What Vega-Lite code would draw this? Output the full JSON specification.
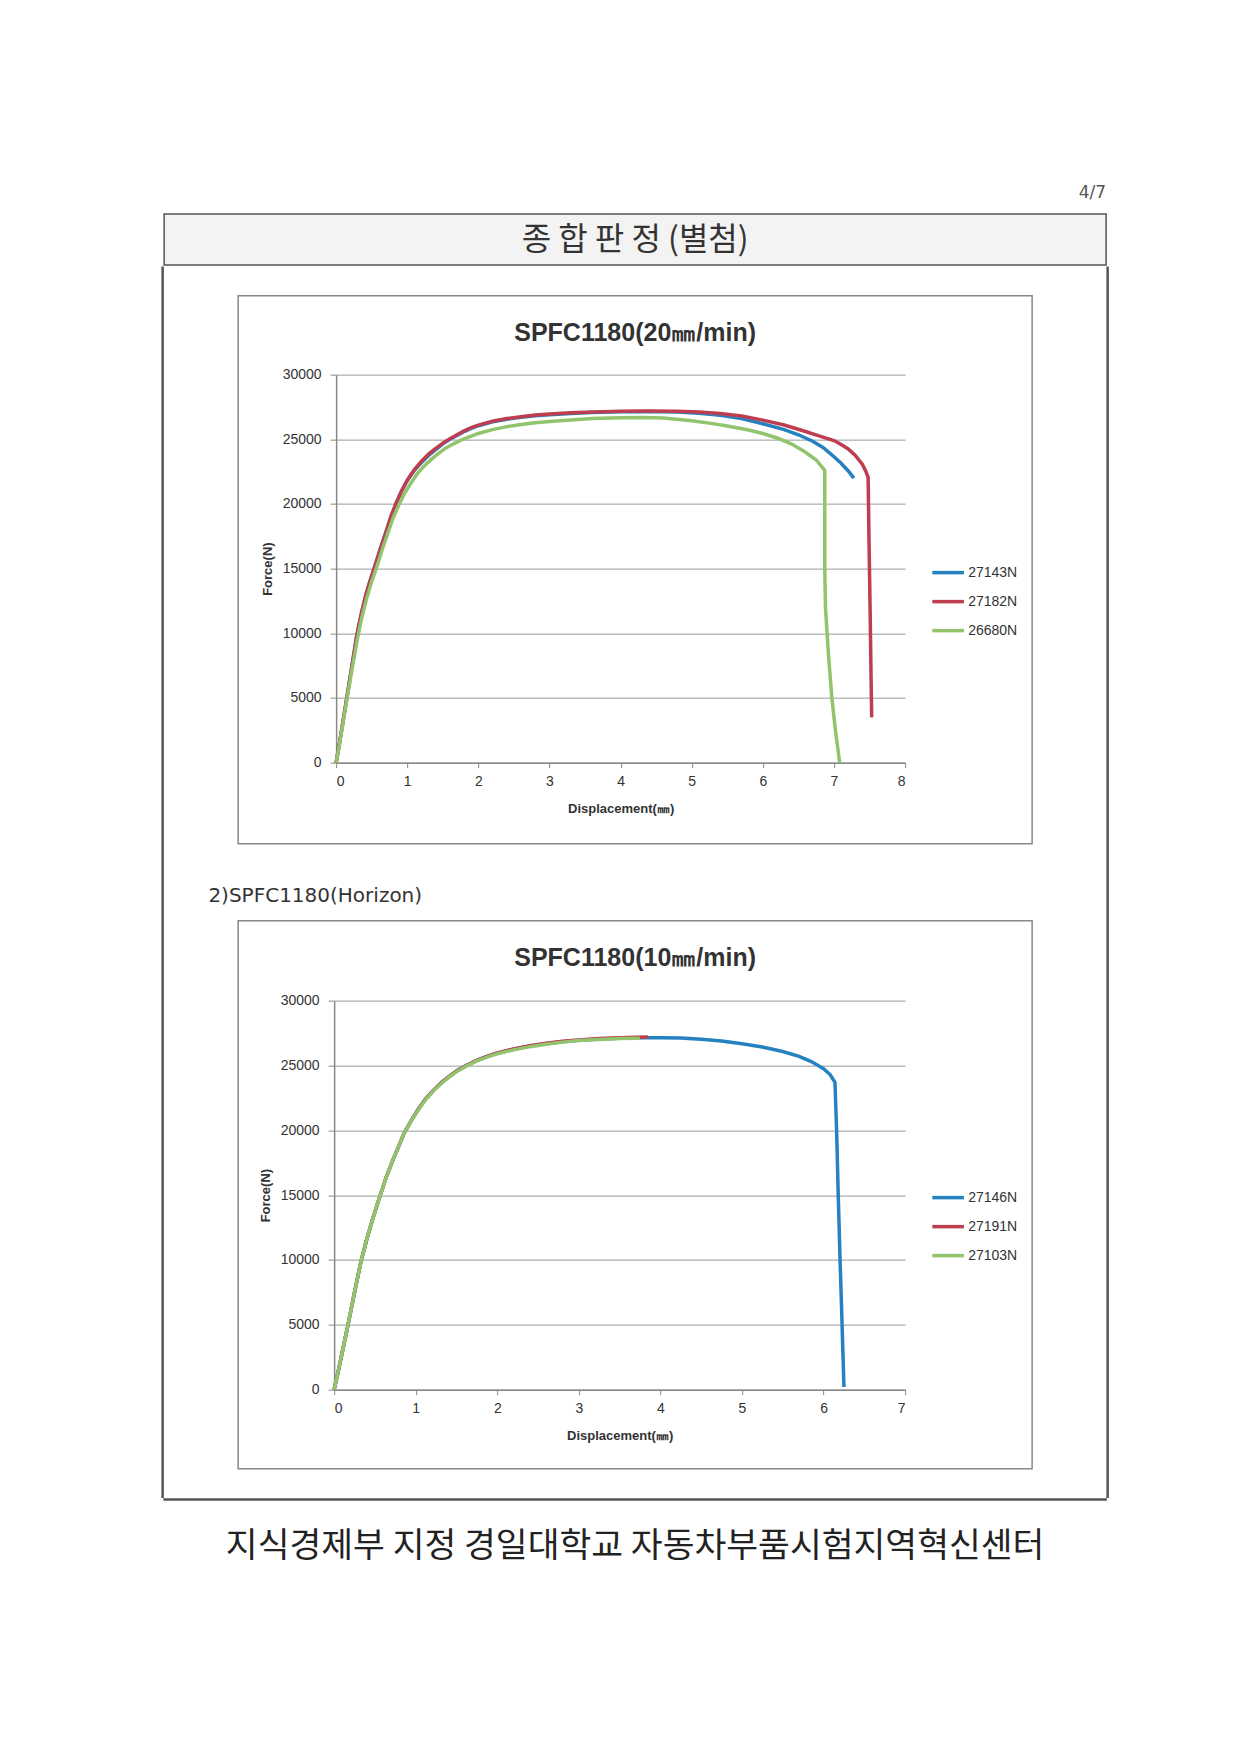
{
  "$schema": "https://vega.github.io/schema/vega-lite/v6.json",
  "background": "white",
  "padding": {"left": 161, "top": 183, "right": 10, "bottom": 10},
  "title": {"text": "2)SPFC1180(Horizon)", "orient": "top", "anchor": "start", "frame": "bounds", "offset": -743, "dx": 47, "baseline": "bottom", "fontSize": 20, "font": "DejaVu Sans", "fontWeight": "normal", "color": "#333"},
  "spacing": 0,
  "center": true,
  "vconcat": [
    {
      "width": 942, "height": 51,
      "view": {"stroke": "#555", "strokeWidth": 1.5, "fill": "#f3f3f3"},
      "title": {"text": "4/7", "orient": "top", "anchor": "end", "offset": 12, "fontSize": 17, "font": "DejaVu Sans", "fontWeight": "normal", "color": "#555"},
      "data": {"values": [{"label": "종 합 판 정 (별첨)"}]},
      "mark": {"type": "text", "fontSize": 32, "font": "Noto Sans CJK KR", "color": "#333"},
      "encoding": {"text": {"field": "label"}}
    },
    {
      "spacing": 73,
      "center": true,
      "hconcat": [
        {
          "width": 1, "height": 1230,
          "view": {"stroke": "#555", "strokeWidth": 1.5},
          "data": {"values": [{"label": ""}]},
          "mark": {"type": "text", "fontSize": 0},
          "encoding": {"text": {"field": "label"}}
        },
        {
          "spacing": 75,
          "resolve": {"scale": {"x": "independent", "y": "independent", "color": "independent"}},
          "vconcat": [
            {
              "width": 794, "height": 548,
              "view": {"stroke": "#888", "strokeWidth": 1.5, "fill": "white"},
              "title": {"text": "SPFC1180(20㎜/min)", "orient": "top", "anchor": "middle", "offset": -75, "baseline": "bottom", "fontSize": 25, "font": "Liberation Sans", "fontWeight": "bold", "color": "#333"},
              "data": {"values": [
                {"s":"27143N","o":1,"x":0,"f":0},{"s":"27143N","o":2,"x":0.05,"f":1600},{"s":"27143N","o":3,"x":0.1,"f":3300},{"s":"27143N","o":4,"x":0.15,"f":5000},{"s":"27143N","o":5,"x":0.22,"f":7400},{"s":"27143N","o":6,"x":0.29,"f":9800},{"s":"27143N","o":7,"x":0.35,"f":11400},{"s":"27143N","o":8,"x":0.42,"f":13000},{"s":"27143N","o":9,"x":0.48,"f":14100},{"s":"27143N","o":10,"x":0.54,"f":15100},{"s":"27143N","o":11,"x":0.62,"f":16500},{"s":"27143N","o":12,"x":0.7,"f":17800},{"s":"27143N","o":13,"x":0.77,"f":19000},{"s":"27143N","o":14,"x":0.84,"f":20000},{"s":"27143N","o":15,"x":0.92,"f":21000},{"s":"27143N","o":16,"x":1.0,"f":21800},{"s":"27143N","o":17,"x":1.1,"f":22600},{"s":"27143N","o":18,"x":1.2,"f":23200},{"s":"27143N","o":19,"x":1.3,"f":23750},{"s":"27143N","o":20,"x":1.4,"f":24200},{"s":"27143N","o":21,"x":1.5,"f":24650},{"s":"27143N","o":22,"x":1.6,"f":25000},{"s":"27143N","o":23,"x":1.7,"f":25300},{"s":"27143N","o":24,"x":1.8,"f":25600},{"s":"27143N","o":25,"x":1.9,"f":25850},{"s":"27143N","o":26,"x":2.0,"f":26050},{"s":"27143N","o":27,"x":2.2,"f":26350},{"s":"27143N","o":28,"x":2.4,"f":26550},{"s":"27143N","o":29,"x":2.6,"f":26700},{"s":"27143N","o":30,"x":2.8,"f":26820},{"s":"27143N","o":31,"x":3.0,"f":26900},{"s":"27143N","o":32,"x":3.3,"f":27000},{"s":"27143N","o":33,"x":3.6,"f":27070},{"s":"27143N","o":34,"x":4.0,"f":27120},{"s":"27143N","o":35,"x":4.4,"f":27143},{"s":"27143N","o":36,"x":4.8,"f":27110},{"s":"27143N","o":37,"x":5.1,"f":27020},{"s":"27143N","o":38,"x":5.4,"f":26860},{"s":"27143N","o":39,"x":5.7,"f":26600},{"s":"27143N","o":40,"x":6.0,"f":26200},{"s":"27143N","o":41,"x":6.3,"f":25750},{"s":"27143N","o":42,"x":6.5,"f":25350},{"s":"27143N","o":43,"x":6.7,"f":24850},{"s":"27143N","o":44,"x":6.85,"f":24350},{"s":"27143N","o":45,"x":7.0,"f":23650},{"s":"27143N","o":46,"x":7.1,"f":23150},{"s":"27143N","o":47,"x":7.2,"f":22550},{"s":"27143N","o":48,"x":7.28,"f":22000},
                {"s":"27182N","o":1,"x":0,"f":0},{"s":"27182N","o":2,"x":0.05,"f":1600},{"s":"27182N","o":3,"x":0.1,"f":3300},{"s":"27182N","o":4,"x":0.15,"f":5000},{"s":"27182N","o":5,"x":0.22,"f":7400},{"s":"27182N","o":6,"x":0.29,"f":9800},{"s":"27182N","o":7,"x":0.35,"f":11400},{"s":"27182N","o":8,"x":0.42,"f":13000},{"s":"27182N","o":9,"x":0.48,"f":14100},{"s":"27182N","o":10,"x":0.54,"f":15100},{"s":"27182N","o":11,"x":0.62,"f":16500},{"s":"27182N","o":12,"x":0.7,"f":17800},{"s":"27182N","o":13,"x":0.77,"f":19000},{"s":"27182N","o":14,"x":0.84,"f":20000},{"s":"27182N","o":15,"x":0.92,"f":21000},{"s":"27182N","o":16,"x":1.0,"f":21850},{"s":"27182N","o":17,"x":1.1,"f":22650},{"s":"27182N","o":18,"x":1.2,"f":23300},{"s":"27182N","o":19,"x":1.3,"f":23850},{"s":"27182N","o":20,"x":1.4,"f":24300},{"s":"27182N","o":21,"x":1.5,"f":24700},{"s":"27182N","o":22,"x":1.6,"f":25050},{"s":"27182N","o":23,"x":1.7,"f":25350},{"s":"27182N","o":24,"x":1.8,"f":25650},{"s":"27182N","o":25,"x":1.9,"f":25900},{"s":"27182N","o":26,"x":2.0,"f":26100},{"s":"27182N","o":27,"x":2.2,"f":26400},{"s":"27182N","o":28,"x":2.4,"f":26600},{"s":"27182N","o":29,"x":2.6,"f":26750},{"s":"27182N","o":30,"x":2.8,"f":26870},{"s":"27182N","o":31,"x":3.0,"f":26950},{"s":"27182N","o":32,"x":3.3,"f":27050},{"s":"27182N","o":33,"x":3.6,"f":27110},{"s":"27182N","o":34,"x":4.0,"f":27160},{"s":"27182N","o":35,"x":4.4,"f":27182},{"s":"27182N","o":36,"x":4.8,"f":27170},{"s":"27182N","o":37,"x":5.1,"f":27110},{"s":"27182N","o":38,"x":5.4,"f":27000},{"s":"27182N","o":39,"x":5.7,"f":26800},{"s":"27182N","o":40,"x":6.0,"f":26480},{"s":"27182N","o":41,"x":6.3,"f":26100},{"s":"27182N","o":42,"x":6.6,"f":25600},{"s":"27182N","o":43,"x":6.8,"f":25250},{"s":"27182N","o":44,"x":7.0,"f":24900},{"s":"27182N","o":45,"x":7.1,"f":24600},{"s":"27182N","o":46,"x":7.2,"f":24250},{"s":"27182N","o":47,"x":7.3,"f":23750},{"s":"27182N","o":48,"x":7.4,"f":23050},{"s":"27182N","o":49,"x":7.45,"f":22500},{"s":"27182N","o":50,"x":7.48,"f":22050},{"s":"27182N","o":51,"x":7.49,"f":18000},{"s":"27182N","o":52,"x":7.5,"f":14500},{"s":"27182N","o":53,"x":7.51,"f":11000},{"s":"27182N","o":54,"x":7.52,"f":7000},{"s":"27182N","o":55,"x":7.53,"f":3500},
                {"s":"26680N","o":1,"x":0,"f":0},{"s":"26680N","o":2,"x":0.05,"f":1500},{"s":"26680N","o":3,"x":0.1,"f":3200},{"s":"26680N","o":4,"x":0.15,"f":4800},{"s":"26680N","o":5,"x":0.22,"f":7100},{"s":"26680N","o":6,"x":0.3,"f":9600},{"s":"26680N","o":7,"x":0.36,"f":11200},{"s":"26680N","o":8,"x":0.43,"f":12700},{"s":"26680N","o":9,"x":0.5,"f":14000},{"s":"26680N","o":10,"x":0.57,"f":15100},{"s":"26680N","o":11,"x":0.65,"f":16500},{"s":"26680N","o":12,"x":0.73,"f":17800},{"s":"26680N","o":13,"x":0.8,"f":18900},{"s":"26680N","o":14,"x":0.88,"f":19900},{"s":"26680N","o":15,"x":0.96,"f":20800},{"s":"26680N","o":16,"x":1.05,"f":21600},{"s":"26680N","o":17,"x":1.15,"f":22400},{"s":"26680N","o":18,"x":1.25,"f":23000},{"s":"26680N","o":19,"x":1.35,"f":23500},{"s":"26680N","o":20,"x":1.45,"f":23950},{"s":"26680N","o":21,"x":1.55,"f":24350},{"s":"26680N","o":22,"x":1.65,"f":24650},{"s":"26680N","o":23,"x":1.78,"f":25000},{"s":"26680N","o":24,"x":1.9,"f":25250},{"s":"26680N","o":25,"x":2.0,"f":25450},{"s":"26680N","o":26,"x":2.2,"f":25750},{"s":"26680N","o":27,"x":2.4,"f":25980},{"s":"26680N","o":28,"x":2.6,"f":26150},{"s":"26680N","o":29,"x":2.8,"f":26280},{"s":"26680N","o":30,"x":3.0,"f":26380},{"s":"26680N","o":31,"x":3.3,"f":26500},{"s":"26680N","o":32,"x":3.6,"f":26600},{"s":"26680N","o":33,"x":4.0,"f":26660},{"s":"26680N","o":34,"x":4.3,"f":26680},{"s":"26680N","o":35,"x":4.6,"f":26640},{"s":"26680N","o":36,"x":5.0,"f":26430},{"s":"26680N","o":37,"x":5.25,"f":26250},{"s":"26680N","o":38,"x":5.5,"f":26020},{"s":"26680N","o":39,"x":5.8,"f":25720},{"s":"26680N","o":40,"x":6.0,"f":25450},{"s":"26680N","o":41,"x":6.2,"f":25100},{"s":"26680N","o":42,"x":6.4,"f":24650},{"s":"26680N","o":43,"x":6.6,"f":24000},{"s":"26680N","o":44,"x":6.75,"f":23400},{"s":"26680N","o":45,"x":6.87,"f":22600},{"s":"26680N","o":46,"x":6.87,"f":19000},{"s":"26680N","o":47,"x":6.87,"f":15000},{"s":"26680N","o":48,"x":6.88,"f":12000},{"s":"26680N","o":49,"x":6.92,"f":8500},{"s":"26680N","o":50,"x":6.97,"f":5000},{"s":"26680N","o":51,"x":7.02,"f":2500},{"s":"26680N","o":52,"x":7.08,"f":0}
              ]},
              "mark": {"type": "line", "strokeWidth": 3.5, "interpolate": "linear"},
              "encoding": {
                "x": {"field": "x", "type": "quantitative", "scale": {"domain": [0, 8], "range": [98, 667], "nice": false, "zero": false},
                      "axis": {"title": "Displacement(㎜)", "orient": "bottom", "offset": -81, "values": [0,1,2,3,4,5,6,7,8], "grid": false, "tickSize": 5, "labelPadding": 7, "titlePadding": 14}},
                "y": {"field": "f", "type": "quantitative", "scale": {"domain": [0, 30000], "range": [467, 79], "nice": false, "zero": false},
                      "axis": {"title": "Force(N)", "orient": "left", "offset": -98, "values": [0,5000,10000,15000,20000,25000,30000], "format": "d", "grid": true, "tickSize": 6, "labelPadding": 9, "titlePadding": 8}},
                "color": {"field": "s", "type": "nominal", "sort": null,
                          "scale": {"domain": ["27143N", "27182N", "26680N"], "range": ["#2581c0", "#be3d4f", "#92c46d"]},
                          "legend": {"orient": "none", "legendX": 692, "legendY": 259, "title": null}},
                "order": {"field": "o", "type": "quantitative"}
              }
            },
            {
              "width": 794, "height": 548,
              "view": {"stroke": "#888", "strokeWidth": 1.5, "fill": "white"},
              "title": {"text": "SPFC1180(10㎜/min)", "orient": "top", "anchor": "middle", "offset": -75, "baseline": "bottom", "fontSize": 25, "font": "Liberation Sans", "fontWeight": "bold", "color": "#333"},
              "data": {"values": [
                {"s":"27146N","o":1,"x":0,"f":0},{"s":"27146N","o":2,"x":0.05,"f":1400},{"s":"27146N","o":3,"x":0.1,"f":2900},{"s":"27146N","o":4,"x":0.17,"f":5000},{"s":"27146N","o":5,"x":0.25,"f":7500},{"s":"27146N","o":6,"x":0.33,"f":9900},{"s":"27146N","o":7,"x":0.4,"f":11600},{"s":"27146N","o":8,"x":0.47,"f":13100},{"s":"27146N","o":9,"x":0.56,"f":14900},{"s":"27146N","o":10,"x":0.64,"f":16400},{"s":"27146N","o":11,"x":0.72,"f":17700},{"s":"27146N","o":12,"x":0.8,"f":18900},{"s":"27146N","o":13,"x":0.86,"f":19800},{"s":"27146N","o":14,"x":0.95,"f":20800},{"s":"27146N","o":15,"x":1.04,"f":21700},{"s":"27146N","o":16,"x":1.12,"f":22400},{"s":"27146N","o":17,"x":1.22,"f":23100},{"s":"27146N","o":18,"x":1.32,"f":23700},{"s":"27146N","o":19,"x":1.42,"f":24200},{"s":"27146N","o":20,"x":1.52,"f":24650},{"s":"27146N","o":21,"x":1.62,"f":25000},{"s":"27146N","o":22,"x":1.75,"f":25400},{"s":"27146N","o":23,"x":1.9,"f":25750},{"s":"27146N","o":24,"x":2.0,"f":25950},{"s":"27146N","o":25,"x":2.2,"f":26250},{"s":"27146N","o":26,"x":2.4,"f":26500},{"s":"27146N","o":27,"x":2.6,"f":26680},{"s":"27146N","o":28,"x":2.8,"f":26830},{"s":"27146N","o":29,"x":3.0,"f":26950},{"s":"27146N","o":30,"x":3.25,"f":27040},{"s":"27146N","o":31,"x":3.5,"f":27100},{"s":"27146N","o":32,"x":3.8,"f":27140},{"s":"27146N","o":33,"x":4.0,"f":27146},{"s":"27146N","o":34,"x":4.25,"f":27110},{"s":"27146N","o":35,"x":4.5,"f":27020},{"s":"27146N","o":36,"x":4.75,"f":26880},{"s":"27146N","o":37,"x":5.0,"f":26680},{"s":"27146N","o":38,"x":5.25,"f":26420},{"s":"27146N","o":39,"x":5.5,"f":26080},{"s":"27146N","o":40,"x":5.7,"f":25700},{"s":"27146N","o":41,"x":5.85,"f":25300},{"s":"27146N","o":42,"x":6.0,"f":24750},{"s":"27146N","o":43,"x":6.08,"f":24300},{"s":"27146N","o":44,"x":6.14,"f":23700},{"s":"27146N","o":45,"x":6.16,"f":20000},{"s":"27146N","o":46,"x":6.18,"f":15000},{"s":"27146N","o":47,"x":6.2,"f":10500},{"s":"27146N","o":48,"x":6.22,"f":6500},{"s":"27146N","o":49,"x":6.25,"f":200},
                {"s":"27191N","o":1,"x":0,"f":0},{"s":"27191N","o":2,"x":0.05,"f":1400},{"s":"27191N","o":3,"x":0.1,"f":2900},{"s":"27191N","o":4,"x":0.17,"f":5000},{"s":"27191N","o":5,"x":0.25,"f":7500},{"s":"27191N","o":6,"x":0.33,"f":9900},{"s":"27191N","o":7,"x":0.4,"f":11600},{"s":"27191N","o":8,"x":0.47,"f":13100},{"s":"27191N","o":9,"x":0.56,"f":14900},{"s":"27191N","o":10,"x":0.64,"f":16400},{"s":"27191N","o":11,"x":0.72,"f":17700},{"s":"27191N","o":12,"x":0.8,"f":18900},{"s":"27191N","o":13,"x":0.86,"f":19800},{"s":"27191N","o":14,"x":0.95,"f":20800},{"s":"27191N","o":15,"x":1.04,"f":21700},{"s":"27191N","o":16,"x":1.12,"f":22400},{"s":"27191N","o":17,"x":1.22,"f":23100},{"s":"27191N","o":18,"x":1.32,"f":23700},{"s":"27191N","o":19,"x":1.42,"f":24200},{"s":"27191N","o":20,"x":1.52,"f":24650},{"s":"27191N","o":21,"x":1.62,"f":25000},{"s":"27191N","o":22,"x":1.75,"f":25400},{"s":"27191N","o":23,"x":1.9,"f":25750},{"s":"27191N","o":24,"x":2.0,"f":25970},{"s":"27191N","o":25,"x":2.2,"f":26280},{"s":"27191N","o":26,"x":2.4,"f":26530},{"s":"27191N","o":27,"x":2.6,"f":26710},{"s":"27191N","o":28,"x":2.8,"f":26860},{"s":"27191N","o":29,"x":3.0,"f":26970},{"s":"27191N","o":30,"x":3.25,"f":27070},{"s":"27191N","o":31,"x":3.5,"f":27140},{"s":"27191N","o":32,"x":3.7,"f":27175},{"s":"27191N","o":33,"x":3.85,"f":27191},
                {"s":"27103N","o":1,"x":0,"f":0},{"s":"27103N","o":2,"x":0.05,"f":1400},{"s":"27103N","o":3,"x":0.1,"f":2900},{"s":"27103N","o":4,"x":0.17,"f":5000},{"s":"27103N","o":5,"x":0.25,"f":7500},{"s":"27103N","o":6,"x":0.33,"f":9900},{"s":"27103N","o":7,"x":0.4,"f":11600},{"s":"27103N","o":8,"x":0.47,"f":13100},{"s":"27103N","o":9,"x":0.56,"f":14900},{"s":"27103N","o":10,"x":0.64,"f":16400},{"s":"27103N","o":11,"x":0.72,"f":17700},{"s":"27103N","o":12,"x":0.8,"f":18900},{"s":"27103N","o":13,"x":0.86,"f":19800},{"s":"27103N","o":14,"x":0.95,"f":20800},{"s":"27103N","o":15,"x":1.04,"f":21650},{"s":"27103N","o":16,"x":1.12,"f":22350},{"s":"27103N","o":17,"x":1.22,"f":23050},{"s":"27103N","o":18,"x":1.32,"f":23650},{"s":"27103N","o":19,"x":1.42,"f":24150},{"s":"27103N","o":20,"x":1.52,"f":24600},{"s":"27103N","o":21,"x":1.62,"f":24950},{"s":"27103N","o":22,"x":1.75,"f":25350},{"s":"27103N","o":23,"x":1.9,"f":25700},{"s":"27103N","o":24,"x":2.0,"f":25900},{"s":"27103N","o":25,"x":2.2,"f":26200},{"s":"27103N","o":26,"x":2.4,"f":26450},{"s":"27103N","o":27,"x":2.6,"f":26640},{"s":"27103N","o":28,"x":2.8,"f":26800},{"s":"27103N","o":29,"x":3.0,"f":26920},{"s":"27103N","o":30,"x":3.25,"f":27010},{"s":"27103N","o":31,"x":3.5,"f":27070},{"s":"27103N","o":32,"x":3.75,"f":27103}
              ]},
              "mark": {"type": "line", "strokeWidth": 3.5, "interpolate": "linear"},
              "encoding": {
                "x": {"field": "x", "type": "quantitative", "scale": {"domain": [0, 7], "range": [96, 667], "nice": false, "zero": false},
                      "axis": {"title": "Displacement(㎜)", "orient": "bottom", "offset": -79, "values": [0,1,2,3,4,5,6,7], "grid": false, "tickSize": 5, "labelPadding": 7, "titlePadding": 14}},
                "y": {"field": "f", "type": "quantitative", "scale": {"domain": [0, 30000], "range": [469, 80], "nice": false, "zero": false},
                      "axis": {"title": "Force(N)", "orient": "left", "offset": -96, "values": [0,5000,10000,15000,20000,25000,30000], "format": "d", "grid": true, "tickSize": 6, "labelPadding": 9, "titlePadding": 8}},
                "color": {"field": "s", "type": "nominal", "sort": null,
                          "scale": {"domain": ["27146N", "27191N", "27103N"], "range": ["#2581c0", "#be3d4f", "#92c46d"]},
                          "legend": {"orient": "none", "legendX": 692, "legendY": 259, "title": null}},
                "order": {"field": "o", "type": "quantitative"}
              }
            }
          ]
        },
        {
          "width": 1, "height": 1230,
          "view": {"stroke": "#555", "strokeWidth": 1.5},
          "data": {"values": [{"label": ""}]},
          "mark": {"type": "text", "fontSize": 0},
          "encoding": {"text": {"field": "label"}}
        }
      ]
    },
    {
      "width": 942, "height": 1,
      "view": {"stroke": "#555", "strokeWidth": 1.5},
      "title": {"text": "지식경제부 지정 경일대학교 자동차부품시험지역혁신센터", "orient": "bottom", "anchor": "middle", "offset": 30, "fontSize": 34.6, "font": "Noto Sans CJK KR", "fontWeight": "normal", "color": "#222"},
      "data": {"values": [{"label": ""}]},
      "mark": {"type": "text", "fontSize": 0},
      "encoding": {"text": {"field": "label"}}
    }
  ],
  "config": {
    "font": "Liberation Sans",
    "axis": {"domainColor": "#888", "domainWidth": 1.5, "tickColor": "#888", "tickWidth": 1, "gridColor": "#999", "gridWidth": 1, "labelFont": "Liberation Sans", "labelFontSize": 14, "labelColor": "#333", "titleFont": "Liberation Sans", "titleFontSize": 13, "titleFontWeight": "bold", "titleColor": "#333"},
    "legend": {"symbolType": "stroke", "symbolSize": 1000, "symbolStrokeWidth": 3.5, "labelFont": "Liberation Sans", "labelFontSize": 14, "labelColor": "#333", "rowPadding": 4, "labelOffset": 2}
  }
}
